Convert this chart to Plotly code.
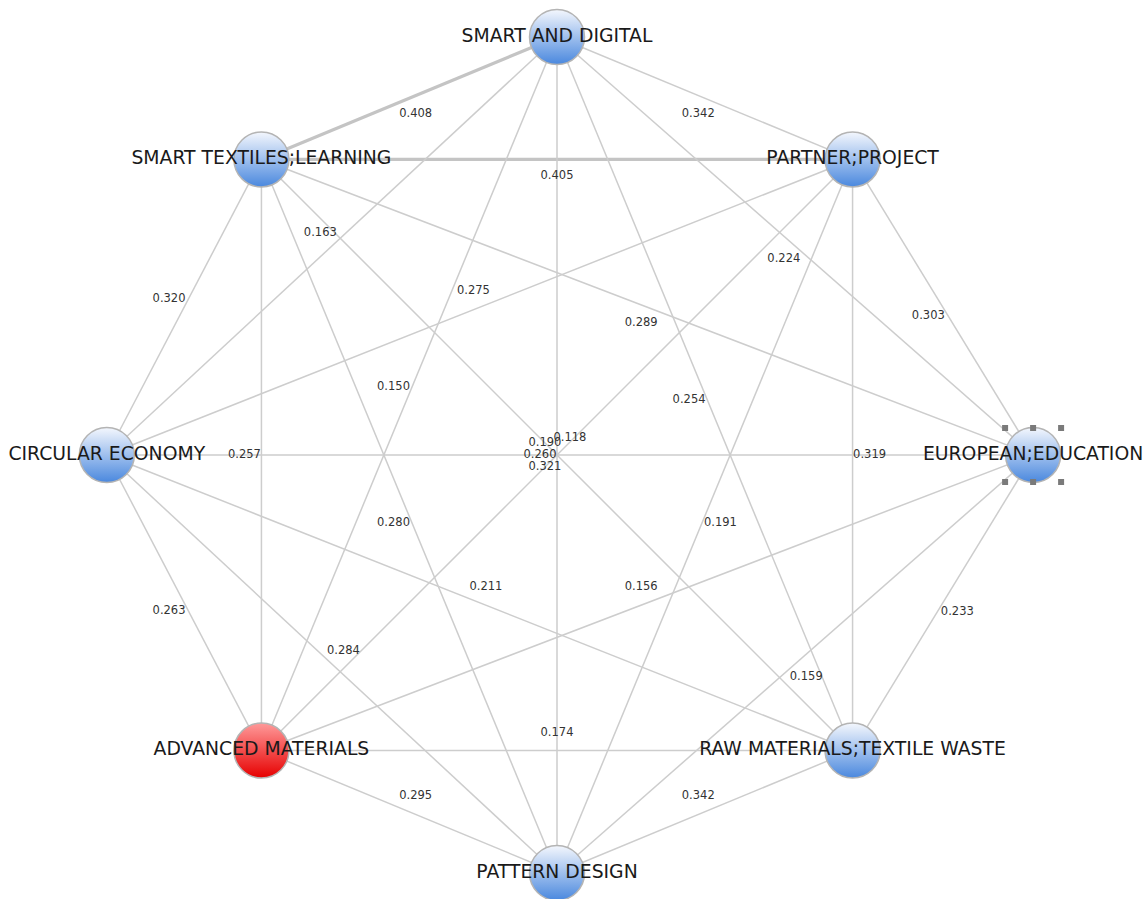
import math
import plotly.graph_objects as go

# ---------------- data ----------------
nodes = ["SMART AND DIGITAL", "PARTNER;PROJECT", "EUROPEAN;EDUCATION",
         "RAW MATERIALS;TEXTILE WASTE", "PATTERN DESIGN", "ADVANCED MATERIALS",
         "CIRCULAR ECONOMY", "SMART TEXTILES;LEARNING"]
selected_node = "ADVANCED MATERIALS"
focused_node = "EUROPEAN;EDUCATION"

edge_source = ["SMART AND DIGITAL", "SMART AND DIGITAL", "SMART TEXTILES;LEARNING",
               "SMART AND DIGITAL", "SMART AND DIGITAL", "SMART AND DIGITAL",
               "SMART AND DIGITAL", "SMART AND DIGITAL",
               "PARTNER;PROJECT", "PARTNER;PROJECT", "PARTNER;PROJECT",
               "PARTNER;PROJECT", "PARTNER;PROJECT",
               "EUROPEAN;EDUCATION", "EUROPEAN;EDUCATION", "EUROPEAN;EDUCATION",
               "EUROPEAN;EDUCATION", "EUROPEAN;EDUCATION",
               "RAW MATERIALS;TEXTILE WASTE", "RAW MATERIALS;TEXTILE WASTE",
               "RAW MATERIALS;TEXTILE WASTE", "RAW MATERIALS;TEXTILE WASTE",
               "PATTERN DESIGN", "PATTERN DESIGN", "PATTERN DESIGN",
               "ADVANCED MATERIALS", "ADVANCED MATERIALS",
               "CIRCULAR ECONOMY"]
edge_target = ["PARTNER;PROJECT", "SMART TEXTILES;LEARNING", "PARTNER;PROJECT",
               "EUROPEAN;EDUCATION", "RAW MATERIALS;TEXTILE WASTE", "PATTERN DESIGN",
               "ADVANCED MATERIALS", "CIRCULAR ECONOMY",
               "EUROPEAN;EDUCATION", "RAW MATERIALS;TEXTILE WASTE", "PATTERN DESIGN",
               "ADVANCED MATERIALS", "CIRCULAR ECONOMY",
               "RAW MATERIALS;TEXTILE WASTE", "PATTERN DESIGN", "ADVANCED MATERIALS",
               "CIRCULAR ECONOMY", "SMART TEXTILES;LEARNING",
               "PATTERN DESIGN", "ADVANCED MATERIALS",
               "CIRCULAR ECONOMY", "SMART TEXTILES;LEARNING",
               "ADVANCED MATERIALS", "CIRCULAR ECONOMY", "SMART TEXTILES;LEARNING",
               "CIRCULAR ECONOMY", "SMART TEXTILES;LEARNING",
               "SMART TEXTILES;LEARNING"]
edge_weight = [0.342, 0.408, 0.405,
               0.224, 0.254, 0.260, 0.150, 0.163,
               0.303, 0.319, 0.191, 0.190, 0.275,
               0.233, 0.159, 0.156, 0.118, 0.289,
               0.342, 0.174, 0.211, 0.321,
               0.295, 0.284, 0.280,
               0.263, 0.257,
               0.320]

# ---------------- layout / style ----------------
W, H = 1148, 899
PX = 418.0                      # pixels per layout unit
CX, CY = 557.0, 455.0           # pixel centre of the circle
node_angle = [90, 45, 0, -45, -90, -135, 180, 135]
node_radius = [1.0, 1.0, 1.139, 1.0, 1.0, 1.0, 1.077, 1.0]
label_side = [1, -1, 1, 1, 1, 1, 1, 1,
              1, -1, -1, 1, 1,
              -1, -1, 1, 1, -1,
              1, 1, 1, -1,
              1, 1, -1,
              -1, -1,
              -1]
LABEL_OFF = 17 / PX

pos = {}
for n, a, r in zip(nodes, node_angle, node_radius):
    pos[n] = (r * math.cos(math.radians(a)), r * math.sin(math.radians(a)))

fig = go.Figure()

# edges
for s, t, w in zip(edge_source, edge_target, edge_weight):
    (x0, y0), (x1, y1) = pos[s], pos[t]
    thick = w >= 0.4
    fig.add_trace(go.Scatter(
        x=[x0, x1], y=[y0, y1], mode="lines",
        line=dict(color="#c4c4c4" if thick else "#cdcdcd", width=3.2 if thick else 1.5),
        hoverinfo="skip", showlegend=False))

# edge labels
lx, ly, lt = [], [], []
for s, t, w, side in zip(edge_source, edge_target, edge_weight, label_side):
    (x0, y0), (x1, y1) = pos[s], pos[t]
    dx, dy = x1 - x0, y1 - y0
    L = math.hypot(dx, dy)
    nx, ny = dy / L, -dx / L
    lx.append((x0 + x1) / 2 + side * LABEL_OFF * nx)
    ly.append((y0 + y1) / 2 + side * LABEL_OFF * ny)
    lt.append(f"{w:.3f}")
fig.add_trace(go.Scatter(
    x=lx, y=ly, text=lt, mode="text",
    textfont=dict(family="DejaVu Sans", size=11.5, color="#333333"),
    hoverinfo="skip", showlegend=False))

# nodes
nx_ = [pos[n][0] for n in nodes]
ny_ = [pos[n][1] for n in nodes]
top_cols = ["#ff9a9a" if n == selected_node else "#f4f7fd" for n in nodes]
bot_cols = ["#e60000" if n == selected_node else "#4a88de" for n in nodes]
fig.add_trace(go.Scatter(
    x=nx_, y=ny_, mode="markers",
    marker=dict(size=55, color=top_cols,
                gradient=dict(type="vertical", color=bot_cols),
                line=dict(color="#b4b4b4", width=1.5)),
    hoverinfo="skip", showlegend=False))

# selection handles around the focused node
fx, fy = pos[focused_node]
hx, hy = [], []
for ox in (-28, 0, 28):
    for oy in (-27, 27):
        hx.append(fx + ox / PX)
        hy.append(fy + oy / PX)
fig.add_trace(go.Scatter(
    x=hx, y=hy, mode="markers",
    marker=dict(symbol="square", size=6, color="#7a7a7a"),
    hoverinfo="skip", showlegend=False))

# node labels
fig.add_trace(go.Scatter(
    x=nx_, y=ny_, text=nodes, mode="text", textposition="middle center",
    textfont=dict(family="DejaVu Sans", size=18.8, color="#1a1a1a"),
    hoverinfo="skip", showlegend=False))

fig.update_layout(
    width=W, height=H, margin=dict(l=0, r=0, t=0, b=0),
    paper_bgcolor="white", plot_bgcolor="white",
    xaxis=dict(range=[-CX / PX, (W - CX) / PX], visible=False, fixedrange=True),
    yaxis=dict(range=[-(H - CY) / PX, CY / PX], visible=False, fixedrange=True),
    showlegend=False)

fig.write_html("out.html", config={"displayModeBar": False},
               post_script="document.body.style.margin='0';document.body.style.overflow='hidden';")
